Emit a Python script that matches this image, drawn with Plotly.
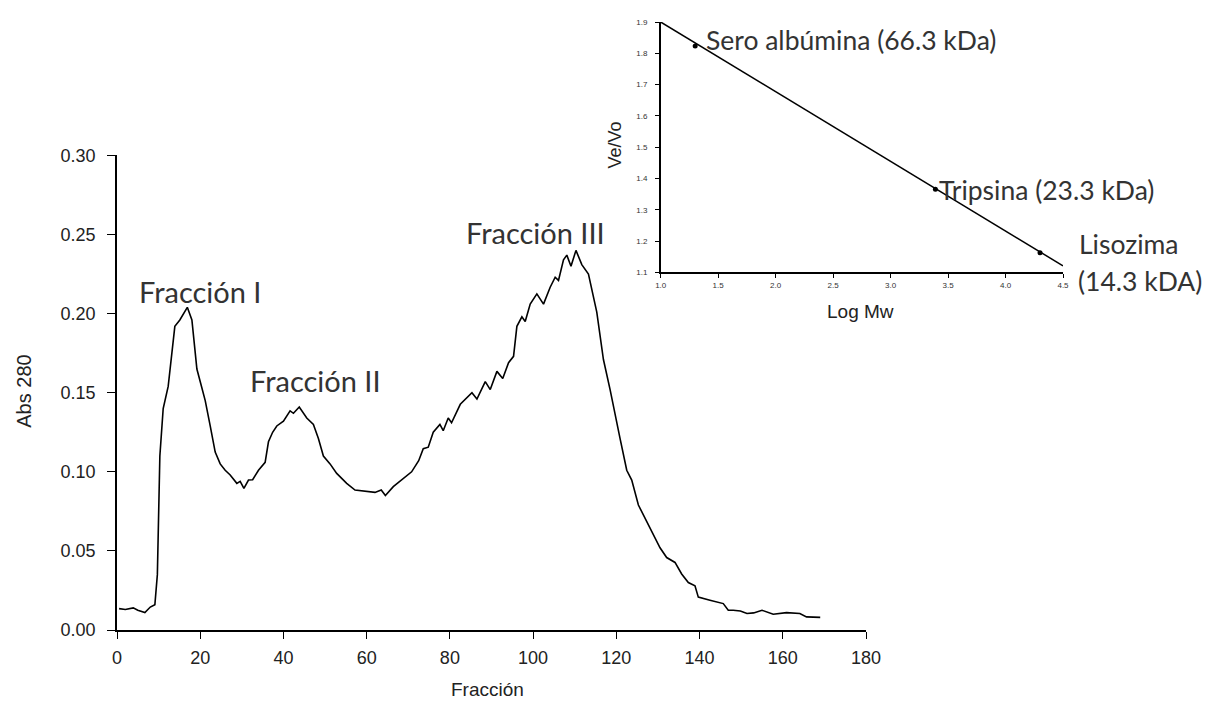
import plotly.graph_objects as go

# ---------------- data ----------------
fraccion = [0.5, 2, 3.9, 5, 6.7, 8, 9.1, 9.7, 10.3, 11.1, 12.3, 13.1, 13.9, 15.1, 16.0, 16.9,
            18.0, 19.2, 20.2, 21.2, 22.4, 23.6, 24.8, 26.0, 27.2, 28.8, 29.6, 30.5, 31.6, 32.6,
            34.0, 35.6, 36.4, 37.4, 38.4, 40.0, 41.6, 42.4, 43.8, 45.6, 47.2, 48.4, 49.6, 51.2,
            52.8, 55.2, 57.2, 60.0, 62.0, 63.5, 64.5, 66.4, 68.8, 70.8, 72.5, 73.6, 74.8, 76.0,
            77.6, 78.4, 79.6, 80.4, 82.5, 84.1, 85.3, 86.5, 88.5, 89.7, 91.3, 92.7, 94.1, 95.3,
            96.1, 97.3, 98.1, 99.3, 100.9, 102.5, 104.1, 105.3, 106.1, 107.3, 108.1, 109.1,
            110.3, 111.7, 113.3, 115.3, 116.9, 118.5, 119.7, 120.9, 122.5, 123.7, 125.3, 126.5,
            128.9, 130.5, 132.1, 134.1, 135.7, 137.3, 138.9, 139.7, 142.5, 145.7, 146.9, 148.1,
            149.8, 151.4, 153.0, 155.0, 157.7, 160.9, 164.1, 165.7, 169.0]
abs280 = [0.0135, 0.013, 0.014, 0.0125, 0.011, 0.0145, 0.016, 0.035, 0.110, 0.140, 0.154, 0.172,
          0.192, 0.196, 0.200, 0.204, 0.196, 0.165, 0.155, 0.145, 0.129, 0.1125, 0.105, 0.101,
          0.098, 0.0927, 0.094, 0.0896, 0.0948, 0.095, 0.101, 0.106, 0.119, 0.125, 0.129, 0.132,
          0.1385, 0.137, 0.141, 0.134, 0.130, 0.121, 0.110, 0.105, 0.099, 0.0927, 0.0885, 0.0875,
          0.087, 0.0885, 0.085, 0.0906, 0.0958, 0.100, 0.107, 0.1146, 0.1156, 0.125, 0.130, 0.126,
          0.134, 0.131, 0.1427, 0.147, 0.150, 0.146, 0.157, 0.152, 0.1635, 0.159, 0.169, 0.173,
          0.192, 0.198, 0.195, 0.206, 0.2125, 0.206, 0.2167, 0.223, 0.221, 0.234, 0.237, 0.230,
          0.240, 0.231, 0.225, 0.201, 0.171, 0.152, 0.1375, 0.121, 0.101, 0.0948, 0.079, 0.073,
          0.0604, 0.052, 0.0458, 0.0427, 0.0354, 0.030, 0.028, 0.0208, 0.0188, 0.0167, 0.0125,
          0.0125, 0.012, 0.0104, 0.0108, 0.0125, 0.010, 0.011, 0.0104, 0.0083, 0.008]

peak_labels = ["Fracción I", "Fracción II", "Fracción III"]
peak_label_x = [4.7, 31.4, 83.3]
peak_label_y = [0.214, 0.158, 0.251]

main_xticks = [0, 20, 40, 60, 80, 100, 120, 140, 160, 180]
main_yticks = [0.00, 0.05, 0.10, 0.15, 0.20, 0.25, 0.30]

# calibration inset
std_names = ["Sero albúmina (66.3 kDa)", "Tripsina (23.3 kDa)"]
std_name_x = [1.377, 3.40]
std_name_y = [1.843, 1.363]
lisozima_lines = ["Lisozima", "(14.3 kDA)"]
std_logmw = [1.30, 3.39, 4.30]
std_vevo = [1.823, 1.366, 1.163]
fit_logmw = [1.0, 4.5]
fit_vevo = [1.90, 1.121]
inset_xticks = [1.0, 1.5, 2.0, 2.5, 3.0, 3.5, 4.0, 4.5]
inset_yticks = [1.1, 1.2, 1.3, 1.4, 1.5, 1.6, 1.7, 1.8, 1.9]

# ---------------- layout geometry (pixels) ----------------
W, H = 1207, 713
ML, MR, MT, MB = 117, 144, 15, 83
PW, PH = W - ML - MR, H - MT - MB
main_x_px = (117, 866)
main_y_px = (150, 630)
ins_x_px = (660.7, 1063)
ins_y_px = (15, 268.3)


def xd(a, b):
    return [(a - ML) / PW, (b - ML) / PW]


def yd(top, bottom):
    return [(H - MB - bottom) / PH, (H - MB - top) / PH]


def px_to_paper(px, py):
    return (px - ML) / PW, (H - MB - py) / PH


ARIAL = "Liberation Sans, Arial, sans-serif"
CAL = "Lato, Open Sans, sans-serif"

fig = go.Figure()
fig.add_trace(go.Scatter(x=fraccion, y=abs280, mode="lines",
                         line=dict(color="black", width=1.6), xaxis="x", yaxis="y",
                         showlegend=False, hoverinfo="skip"))
fig.add_trace(go.Scatter(x=fit_logmw, y=fit_vevo, mode="lines",
                         line=dict(color="black", width=1.5), xaxis="x2", yaxis="y2",
                         showlegend=False, hoverinfo="skip"))
fig.add_trace(go.Scatter(x=std_logmw, y=std_vevo, mode="markers",
                         marker=dict(color="black", size=5), xaxis="x2", yaxis="y2",
                         showlegend=False, hoverinfo="skip"))

axis_common = dict(showgrid=False, zeroline=False, showline=True, linecolor="black",
                   ticks="outside", tickcolor="black", color="black")

fig.update_layout(
    width=W, height=H, margin=dict(l=ML, r=MR, t=MT, b=MB, pad=0),
    paper_bgcolor="white", plot_bgcolor="rgba(0,0,0,0)",
    xaxis=dict(domain=xd(*main_x_px), range=[0, 180], tickvals=main_xticks,
               ticklen=7, linewidth=1.5, tickwidth=1.3,
               tickfont=dict(family=ARIAL, size=18, color="#222"), anchor="y",
               ticklabelstandoff=4, **axis_common),
    yaxis=dict(domain=yd(*main_y_px), range=[0, 0.30], tickvals=main_yticks,
               tickformat=".2f", ticklen=8, linewidth=1.5, tickwidth=1.3,
               tickfont=dict(family=ARIAL, size=18, color="#222"), anchor="x",
               ticklabelstandoff=8, **axis_common),
    xaxis2=dict(domain=xd(*ins_x_px), range=[1.0, 4.5], tickvals=inset_xticks,
                tickformat=".1f", ticklen=4, linewidth=1.5, tickwidth=1,
                tickfont=dict(family=ARIAL, size=8, color="#333"), anchor="y2",
                **axis_common),
    yaxis2=dict(domain=yd(*ins_y_px), range=[1.1, 1.9], tickvals=inset_yticks,
                tickformat=".1f", ticklen=4, linewidth=1.5, tickwidth=1,
                tickfont=dict(family=ARIAL, size=8, color="#333"), anchor="x2",
                ticklabelstandoff=6, **axis_common),
)

ann = []
for t, x, y in zip(peak_labels, peak_label_x, peak_label_y):
    ann.append(dict(text=t, x=x, y=y, xref="x", yref="y", xanchor="left", yanchor="middle",
                    showarrow=False, font=dict(family=CAL, size=29, color="#333")))

for t, x, y in zip(std_names, std_name_x, std_name_y):
    ann.append(dict(text=t, x=x, y=y, xref="x2", yref="y2", xanchor="left", yanchor="middle",
                    showarrow=False, font=dict(family=CAL, size=26.5, color="#333")))

for t, (px, py) in zip(lisozima_lines, [(1077, 240), (1076, 277)]):
    x, y = px_to_paper(px, py)
    ann.append(dict(text=t, x=x, y=y, xref="paper", yref="paper", xanchor="left",
                    yanchor="middle", showarrow=False,
                    font=dict(family=CAL, size=26.5, color="#333")))

# axis titles placed as text at their positions
for t, (px, py), ang, size in [("Abs 280", (24, 389), -90, 20),
                               ("Fracción", (487, 690), 0, 19),
                               ("Ve/Vo", (615, 140), -90, 18),
                               ("Log Mw", (860, 308), 0, 19)]:
    x, y = px_to_paper(px, py)
    ann.append(dict(text=t, x=x, y=y, xref="paper", yref="paper", xanchor="center",
                    yanchor="middle", textangle=ang, showarrow=False,
                    font=dict(family=ARIAL, size=size, color="#222")))

fig.update_layout(annotations=ann)
fig.write_html("out.html", config={"displayModeBar": False},
               post_script="document.body.style.margin='0';")
